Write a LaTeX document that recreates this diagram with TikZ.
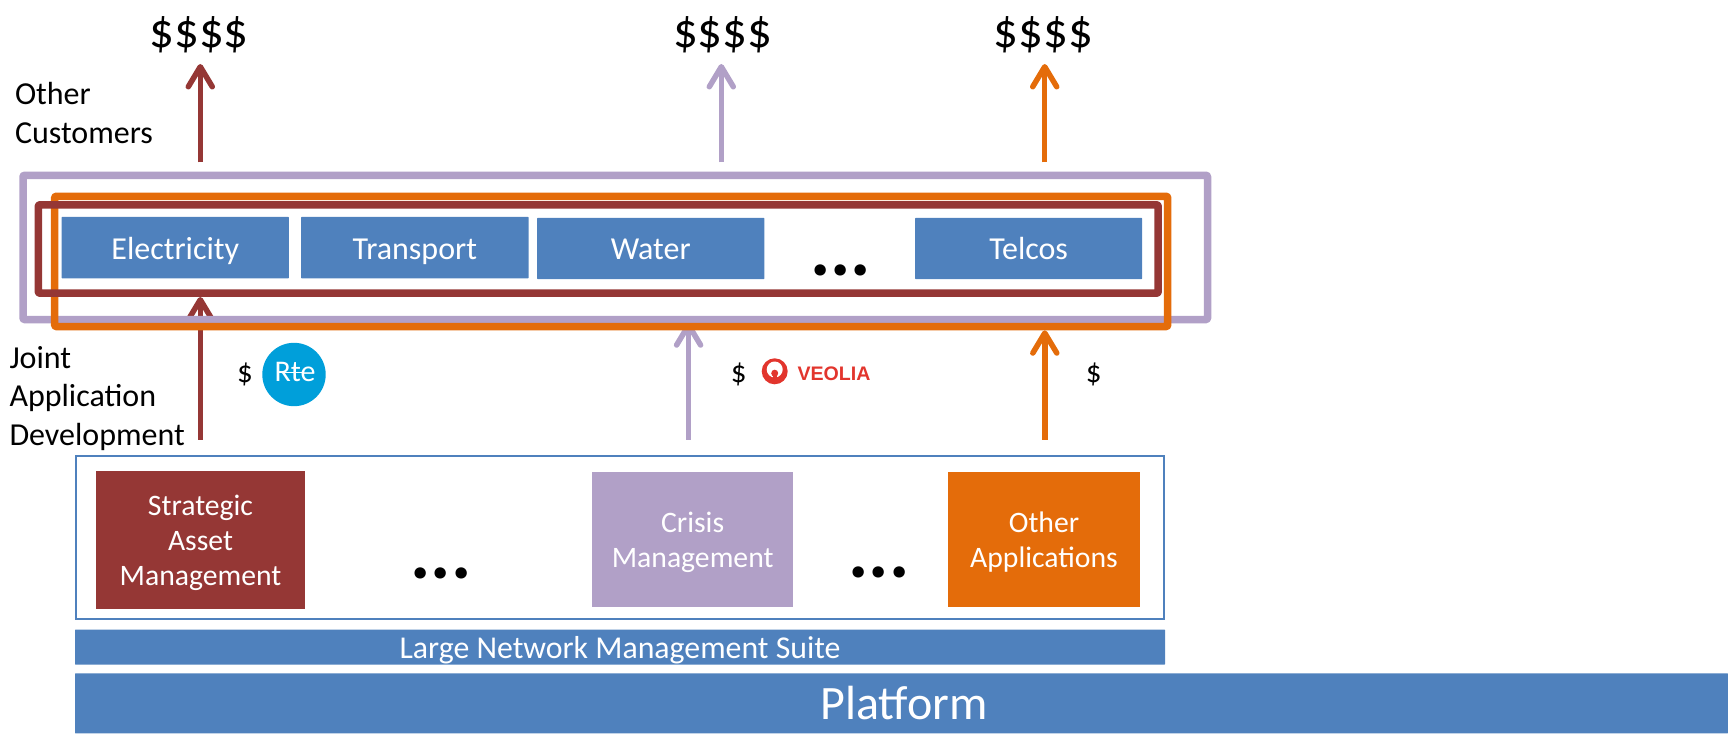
\documentclass[tikz,border=0pt]{standalone}
\usepackage{fontspec}
\setmainfont{Carlito}
\newfontfamily\logofont{Liberation Sans}
\usetikzlibrary{arrows.meta}
\definecolor{cRed}{HTML}{953735}
\definecolor{cPurple}{HTML}{B1A0C7}
\definecolor{cOrange}{HTML}{E46C0A}
\definecolor{cBlue}{HTML}{4F81BD}
\definecolor{cRte}{HTML}{009FDA}
\definecolor{cVeolia}{HTML}{E2352D}
\newcommand\fsz[2]{\fontsize{#1}{#2}\selectfont}
\tikzset{
  every node/.style={inner sep=0pt,outer sep=0pt},
  frame/.style={draw=#1,line width=7.5pt,line join=round,fill=none,rounded corners=1pt},
  sector/.style={fill=cBlue,text=white,font=\fsz{32}{38},rounded corners=0.5pt},
  app/.style={fill=#1,text=white,font=\fsz{29.7}{35},align=center},
  flow/.style={draw=#1,line width=5.5pt,-{Straight Barb[length=20pt,width=24pt,round]}},
  label/.style={text=black,font=\fsz{32}{38.3},align=left,anchor=base west},
  money/.style={text=black,font=\fsz{49}{49},anchor=base},
  small money/.style={text=black,font=\fsz{31}{31},anchor=base},
  more/.style={text=black,font=\fsz{76}{76}\bfseries,anchor=base},
}
\begin{document}
\begin{tikzpicture}[x=1pt,y=-1pt]
\useasboundingbox (0,0) rectangle (1728,735);
% connector end points
\coordinate (upRedS) at (200.3,162.3);   \coordinate (upRedT) at (200.3,64);
\coordinate (upPurS) at (721.3,162.3);   \coordinate (upPurT) at (721.3,64);
\coordinate (upOrS) at (1044.7,162.3);   \coordinate (upOrT) at (1044.7,64);
\coordinate (loRedS) at (200.3,439.7);   \coordinate (loRedT) at (200.3,297);
\coordinate (loPurS) at (688.6,439.7);   \coordinate (loPurT) at (688.6,322.3);
\coordinate (loOrS) at (1044.8,439.7);   \coordinate (loOrT) at (1044.8,330.3);
% arrows
\draw[flow=cRed] (upRedS) -- (upRedT);
\draw[flow=cPurple] (upPurS) -- (upPurT);
\draw[flow=cOrange] (upOrS) -- (upOrT);
\draw[flow=cRed] (loRedS) -- (loRedT);
\draw[flow=cPurple] (loPurS) -- (loPurT);
\draw[flow=cOrange] (loOrS) -- (loOrT);
% frames
\node[frame=cPurple,minimum width=1184.5pt,minimum height=144.2pt] (framePurple) at (615.25,247.4) {};
\node[frame=cOrange,minimum width=1113pt,minimum height=130.2pt] (frameOrange) at (611.2,261.4) {};
\node[frame=cRed,minimum width=1119.9pt,minimum height=88.4pt] (frameRed) at (598.25,249) {};
% sectors
\node[sector,minimum width=227.3pt,minimum height=61.3pt,text height=22.7pt,text depth=0pt] (electricity) at (175.25,247.65) {Electricity};
\node[sector,minimum width=227.3pt,minimum height=61.3pt,text height=22.7pt,text depth=0pt] (transport) at (414.85,247.65) {Transport};
\node[sector,minimum width=227.4pt,minimum height=61pt,text height=22pt,text depth=0pt] (water) at (650.7,248.5) {Water};
\node[sector,minimum width=226.9pt,minimum height=61pt,text height=22pt,text depth=0pt] (telcos) at (1028.65,248.5) {Telcos};
\node[more] (moreSectors) at (840.7,275.7) {...};
% suite box
\node[draw=cBlue,line width=2pt,minimum width=1088pt,minimum height=163pt] (suiteBox) at (620,537) {};
\node[app=cRed,minimum width=209pt,minimum height=138pt,text height=90pt,text depth=0pt] (strategic) at (200.5,540) {Strategic\\Asset\\Management};
\node[app=cPurple,minimum width=200.5pt,minimum height=135.6pt,text height=56pt,text depth=0pt] (crisis) at (692.65,539.5) {Crisis\\Management};
\node[app=cOrange,minimum width=192.1pt,minimum height=135.6pt,text height=56pt,text depth=0pt] (otherApps) at (1044,539.5) {Other\\Applications};
\node[more] (moreAppsA) at (441,578.3) {...};
\node[more] (moreAppsB) at (879,577.6) {...};
\node[sector,font=\fsz{31.8}{35},minimum width=1090pt,minimum height=35pt,text height=22.2pt,text depth=0pt] (suite) at (620,647.2) {Large Network Management Suite};
\node[sector,font=\fsz{48}{48},minimum width=1653pt,minimum height=60pt,text height=32pt,text depth=0pt] (platform) at (901.5,703.3) {\hspace*{5pt}Platform};
% labels
\node[label] (otherCustomers) at (15,143.3) {Other\\Customers};
\node[label] (jad) at (9.5,445) {Joint\\Application\\Development};
\node[money] (moneyA) at (199,47.5) {\$\$\$\$};
\node[money] (moneyB) at (722.7,47.5) {\$\$\$\$};
\node[money] (moneyC) at (1043.3,47.5) {\$\$\$\$};
\node[small money] (payA) at (245,382.5) {\$};
\node[small money] (payB) at (738.7,382.5) {\$};
\node[small money] (payC) at (1093.7,382.5) {\$};
% RTE logo
\node[circle,fill=cRte,minimum size=63.4pt] (rteDisc) at (294,374.5) {};
\node[text=white,font=\fsz{30}{30},anchor=base] (rteText) at (295,381.7) {Rte};
\coordinate (rteBarA) at (282,372.6); \coordinate (rteBarB) at (303,372.6);
\draw[white,line width=1.5pt] (rteBarA) -- (rteBarB);
% Veolia logo
\node[circle,fill=cVeolia,minimum size=26pt] (veoDisc) at (774.7,371.3) {};
\node[circle,fill=white,minimum size=16pt] (veoHole) at (774.7,369.5) {};
\node[circle,fill=cVeolia,minimum size=7pt] (veoHead) at (774.7,373.2) {};
\fill[cVeolia] (772.7,373) rectangle (776.7,381);
\node[text=cVeolia,font=\logofont\bfseries\fsz{19.6}{19.6},anchor=base west] (veoText) at (797.5,380) {VEOLIA};
\end{tikzpicture}
\end{document}
